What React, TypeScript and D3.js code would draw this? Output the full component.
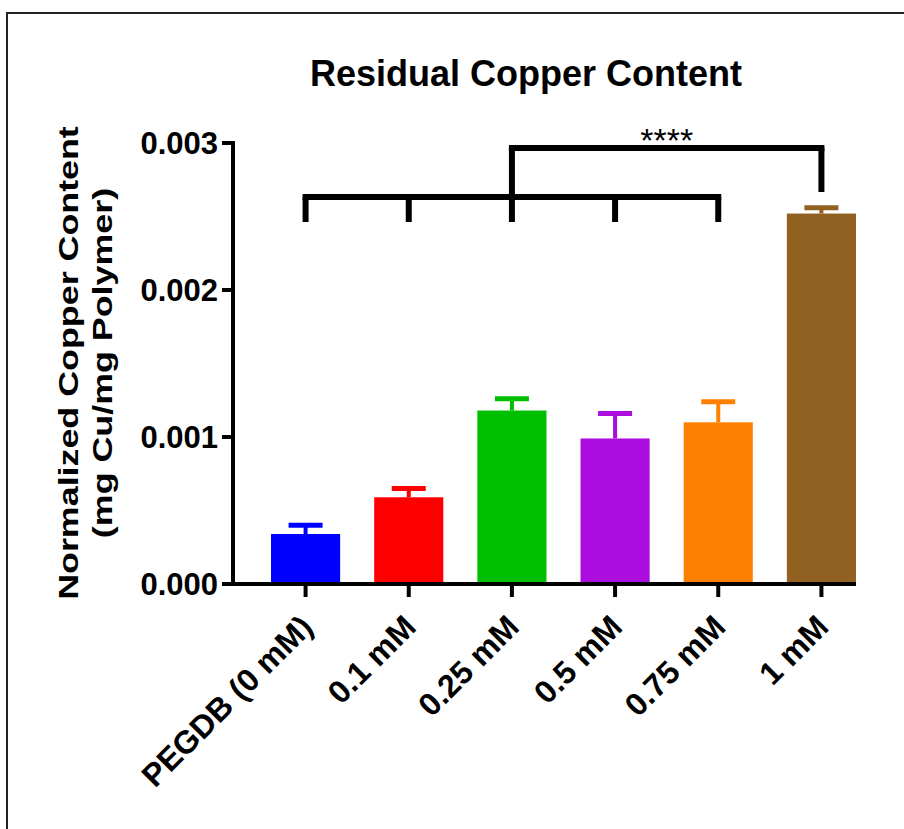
import React from 'react';
import * as d3 from 'd3';

const groups = ['PEGDB (0 mM)', '0.1 mM', '0.25 mM', '0.5 mM', '0.75 mM', '1 mM'];
const means = [0.00034, 0.00059, 0.00118, 0.00099, 0.0011, 0.00252];
const errors = [0.00006, 0.00006, 0.00008, 0.00017, 0.00014, 0.00004];
const colors = ['#0000ff', '#ff0000', '#00bf00', '#aa0ddd', '#ff8000', '#916122'];
const yTicks = [0, 0.001, 0.002, 0.003];

const FONT = 'Arial, "Liberation Sans", sans-serif';

const App = () => {
  const width = 904;
  const height = 829;

  // plot area
  const yAxisX = 233;
  const x = d3.scaleBand<string>()
    .domain(groups)
    .range([254, 873])
    .paddingInner(0.33)
    .paddingOuter(0.165);

  const y = d3.scaleLinear()
    .domain([0, 0.003])
    .range([584, 143]);

  const bw = x.bandwidth();
  const cx = (g: string) => (x(g) as number) + bw / 2;
  const lastRight = (x(groups[groups.length - 1]) as number) + bw;

  // significance brackets
  const lowY = 197;
  const legBottom = 222;
  const topY = 148;
  const left = groups.slice(0, 5);

  return (
    <svg width={width} height={height} style={{ position: 'absolute', left: 0, top: 0 }}>
      <rect x={0} y={0} width={width} height={height} fill="#fff" />
      {/* frame */}
      <path d={`M7,${height + 5} V13 H${width + 5}`} fill="none" stroke="#222" strokeWidth={2} />

      <text x={526} y={86} textAnchor="middle" fontFamily={FONT} fontWeight="bold" fontSize={36}>
        Residual Copper Content
      </text>

      {/* y label (stretched along its length like the original) */}
      <g transform="translate(0,363) rotate(-90) scale(1.28,1)">
        <text y={78} textAnchor="middle" fontFamily={FONT} fontWeight="bold" fontSize={28}>
          Normalized Copper Content
        </text>
        <text y={112} textAnchor="middle" fontFamily={FONT} fontWeight="bold" fontSize={28}>
          (mg Cu/mg Polymer)
        </text>
      </g>

      {/* bars */}
      {groups.map((g, i) => (
        <g key={g}>
          <rect x={x(g)} y={y(means[i])} width={bw} height={y(0) - y(means[i])} fill={colors[i]} />
          <line x1={cx(g)} x2={cx(g)} y1={y(means[i])} y2={y(means[i] + errors[i])} stroke={colors[i]} strokeWidth={4} />
          <line x1={cx(g) - 17} x2={cx(g) + 17} y1={y(means[i] + errors[i])} y2={y(means[i] + errors[i])} stroke={colors[i]} strokeWidth={5} />
        </g>
      ))}

      {/* y axis */}
      <line x1={yAxisX} x2={yAxisX} y1={y(0.003) - 2} y2={y(0) + 2} stroke="#000" strokeWidth={4} />
      {yTicks.map(t => (
        <g key={t}>
          <line x1={yAxisX - 11} x2={yAxisX} y1={y(t)} y2={y(t)} stroke="#000" strokeWidth={4} />
          <text x={yAxisX - 15} y={y(t)} dy="0.36em" textAnchor="end" fontFamily={FONT} fontWeight="bold" fontSize={31}>
            {d3.format('.3f')(t)}
          </text>
        </g>
      ))}

      {/* x axis */}
      <line x1={yAxisX - 8} x2={lastRight} y1={y(0)} y2={y(0)} stroke="#000" strokeWidth={4} />
      {groups.map(g => (
        <g key={g}>
          <line x1={cx(g)} x2={cx(g)} y1={y(0)} y2={y(0) + 13} stroke="#000" strokeWidth={4} />
          <text
            transform={`translate(${cx(g) + 9},${y(0) + 45}) rotate(-45)`}
            textAnchor="end"
            fontFamily={FONT}
            fontWeight="bold"
            fontSize={32}
          >
            {g}
          </text>
        </g>
      ))}

      {/* brackets */}
      <line x1={cx(left[0]) - 3} x2={cx(left[4]) + 3} y1={lowY} y2={lowY} stroke="#000" strokeWidth={6} />
      {left.map(g => (
        <line key={g} x1={cx(g)} x2={cx(g)} y1={lowY} y2={legBottom} stroke="#000" strokeWidth={6} />
      ))}
      <line x1={cx(groups[2]) - 3} x2={cx(groups[5]) + 3} y1={topY} y2={topY} stroke="#000" strokeWidth={6} />
      <line x1={cx(groups[2])} x2={cx(groups[2])} y1={topY} y2={lowY} stroke="#000" strokeWidth={6} />
      <line x1={cx(groups[5])} x2={cx(groups[5])} y1={topY} y2={192} stroke="#000" strokeWidth={6} />
      <text x={(cx(groups[2]) + cx(groups[5])) / 2} y={152} textAnchor="middle" fontFamily={FONT} fontSize={34}>
        ****
      </text>
    </svg>
  );
};

export default App;
